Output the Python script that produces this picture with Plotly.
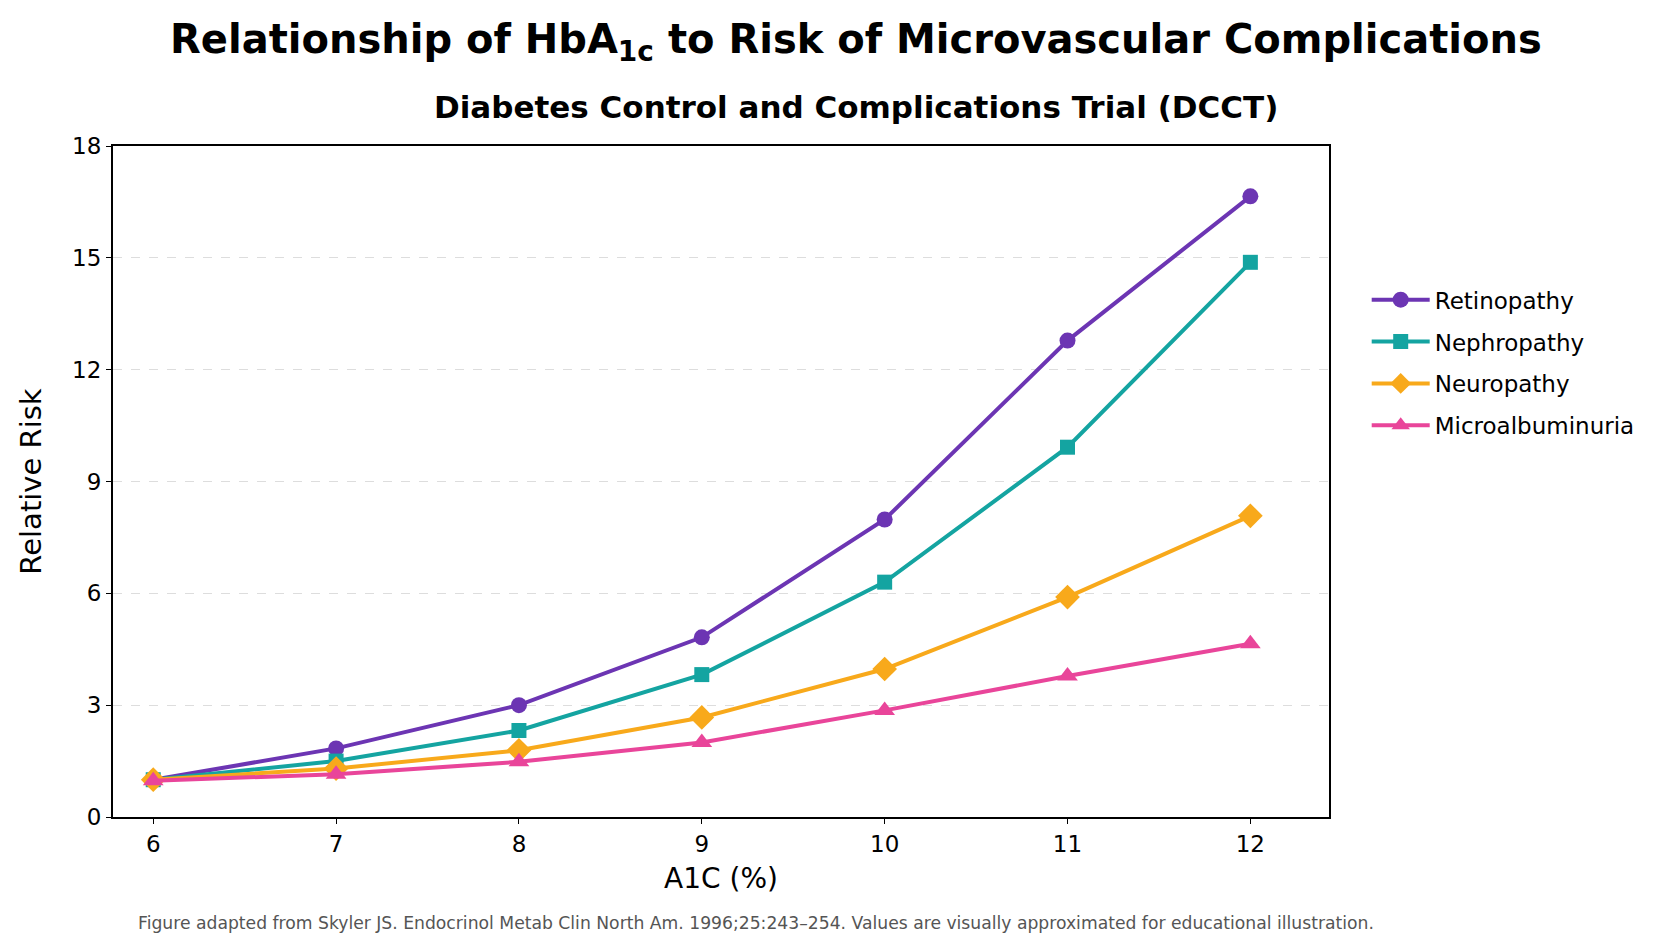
import plotly.graph_objects as go

a1c = [6, 7, 8, 9, 10, 11, 12]
retinopathy = [1.0, 1.84, 3.0, 4.82, 7.98, 12.78, 16.65]
nephropathy = [1.0, 1.5, 2.32, 3.82, 6.3, 9.92, 14.88]
neuropathy = [1.0, 1.3, 1.79, 2.67, 3.97, 5.9, 8.08]
microalbuminuria = [0.97, 1.15, 1.48, 2.0, 2.86, 3.78, 4.65]

series_names = ["Retinopathy", "Nephropathy", "Neuropathy", "Microalbuminuria"]
series_values = [retinopathy, nephropathy, neuropathy, microalbuminuria]
colors = ["#6C35B3", "#14A4A1", "#F8A91B", "#E9459A"]
symbols = ["circle", "square", "diamond", "triangle-up"]
sizes = [16, 15, 19, 18]

y_ticks = [0, 3, 6, 9, 12, 15, 18]

fig = go.Figure()
for name, vals, c, s, sz in zip(series_names, series_values, colors, symbols, sizes):
    fig.add_trace(go.Scatter(
        x=a1c, y=vals, name=name, mode="lines+markers", legendgroup=name,
        line=dict(color=c, width=4),
        marker=dict(symbol=s, size=sz, color=c),
    ))

FONT = "DejaVu Sans"
fig.update_layout(
    width=1658, height=949,
    paper_bgcolor="white", plot_bgcolor="white",
    margin=dict(l=113, r=329, t=146, b=132),
    font=dict(family=FONT, color="black"),
    showlegend=True,
    legend=dict(x=1.031, y=0.803, xanchor="left", yanchor="top",
                font=dict(size=23, family=FONT), itemwidth=58,
                tracegroupgap=9, bgcolor="rgba(0,0,0,0)"),
    annotations=[
        dict(text="<b>Relationship of HbA<sub>1c</sub> to Risk of Microvascular Complications</b>",
             xref="paper", yref="paper", x=(856 - 113) / 1216, y=(817 - 42) / 671,
             xanchor="center", yanchor="middle", showarrow=False,
             font=dict(size=40, family=FONT, color="black")),
        dict(text="<b>Diabetes Control and Complications Trial (DCCT)</b>",
             xref="paper", yref="paper", x=(856 - 113) / 1216, y=(817 - 107) / 671,
             xanchor="center", yanchor="middle", showarrow=False,
             font=dict(size=31, family=FONT, color="black")),
        dict(text="Figure adapted from Skyler JS. Endocrinol Metab Clin North Am. 1996;25:243\u2013254. Values are visually approximated for educational illustration.",
             xref="paper", yref="paper", x=(756 - 113) / 1216, y=(817 - 923) / 671,
             xanchor="center", yanchor="middle", showarrow=False,
             font=dict(size=17.2, family=FONT, color="#555555")),
    ],
)

fig.update_xaxes(
    range=[5.78, 12.43], tickvals=a1c, ticktext=[str(v) for v in a1c],
    showgrid=False, zeroline=False,
    showline=True, linecolor="black", linewidth=2, mirror=True,
    ticks="outside", ticklen=5, tickcolor="black",
    tickfont=dict(size=23, family=FONT),
    title=dict(text="A1C (%)", font=dict(size=28, family=FONT), standoff=13),
)
fig.update_yaxes(
    range=[0, 18], tickvals=y_ticks,
    showgrid=True, gridcolor="#dddddd", griddash="dash", gridwidth=1,
    zeroline=False,
    showline=True, linecolor="black", linewidth=2, mirror=True,
    ticks="outside", ticklen=5, tickcolor="black",
    tickfont=dict(size=23, family=FONT),
    title=dict(text="Relative Risk", font=dict(size=29, family=FONT), standoff=22),
)

fig.write_html("out.html")
